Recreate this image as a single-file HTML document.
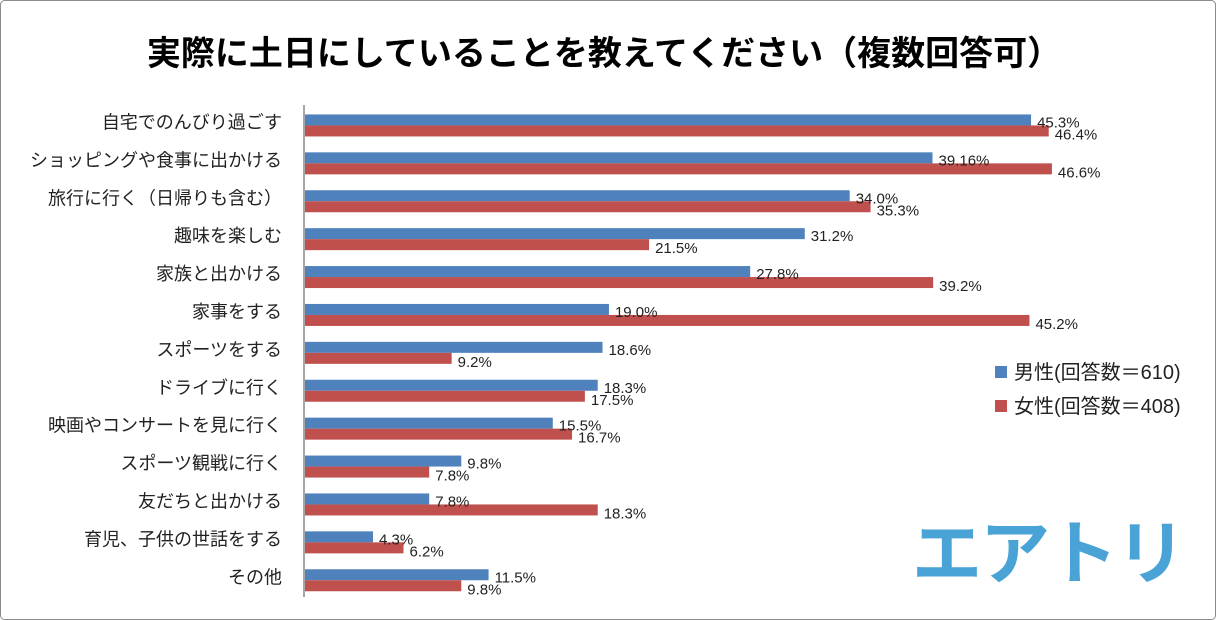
<!DOCTYPE html>
<html><head><meta charset="utf-8"><style>
html,body{margin:0;padding:0;background:#fff;}
svg{display:block;font-family:"Liberation Sans","Noto Sans CJK JP",sans-serif;}
</style></head><body>
<svg id="chart" width="1216" height="620" viewBox="0 0 1216 620">
<rect x="0.5" y="0.5" width="1215" height="619" rx="4" fill="#fff" stroke="#8c8c8c"/>
<text x="604" y="65" text-anchor="middle" font-size="34" font-weight="bold" fill="#000">実際に土日にしていることを教えてください（複数回答可）</text>
<line x1="304" y1="105" x2="304" y2="597" stroke="#888" stroke-width="1.5"/>
<g id="bars"></g>
<rect x="995" y="366" width="12" height="12" fill="#4f81bd"/>
<text x="1014" y="379" font-size="20" fill="#222">男性(回答数＝610)</text>
<rect x="995" y="400" width="12" height="12" fill="#c0504d"/>
<text x="1014" y="413" font-size="20" fill="#222">女性(回答数＝408)</text>
<text x="1048" y="578" text-anchor="middle" font-size="70" font-weight="bold" fill="#4aa3d6" letter-spacing="-2">エアトリ</text>
</svg>
<script>
const categories=["自宅でのんびり過ごす","ショッピングや食事に出かける","旅行に行く（日帰りも含む）","趣味を楽しむ","家族と出かける","家事をする","スポーツをする","ドライブに行く","映画やコンサートを見に行く","スポーツ観戦に行く","友だちと出かける","育児、子供の世話をする","その他"];
const maleValues=[45.3,39.16,34.0,31.2,27.8,19.0,18.6,18.3,15.5,9.8,7.8,4.3,11.5];
const femaleValues=[46.4,46.6,35.3,21.5,39.2,45.2,9.2,17.5,16.7,7.8,18.3,6.2,9.8];
const maleLabels=["45.3%","39.16%","34.0%","31.2%","27.8%","19.0%","18.6%","18.3%","15.5%","9.8%","7.8%","4.3%","11.5%"];
const femaleLabels=["46.4%","46.6%","35.3%","21.5%","39.2%","45.2%","9.2%","17.5%","16.7%","7.8%","18.3%","6.2%","9.8%"];
const NS="http://www.w3.org/2000/svg";
const x0=304, pxPer=16.05, yTop=106, step=37.9;
function xScale(v){return x0+v*pxPer;}
function yCenter(i){return yTop+step*i+step/2+0.5;}
const g=document.getElementById('bars');
function mk(tag,attrs){const e=document.createElementNS(NS,tag);for(const k in attrs)e.setAttribute(k,attrs[k]);g.appendChild(e);return e;}
categories.forEach((c,i)=>{
  const yc=yCenter(i);
  const t=mk('text',{x:282,y:yc+3,'text-anchor':'end','font-size':18,fill:'#222'});
  t.textContent=c;
  
  
  const b1=mk('rect',{x:x0+1,y:yc-11,width:xScale(maleValues[i])-x0-1,height:11,fill:'#4f81bd'});
  
  
  const b2=mk('rect',{x:x0+1,y:yc,width:xScale(femaleValues[i])-x0-1,height:11,fill:'#c0504d'});
  
  
  const l1=mk('text',{x:xScale(maleValues[i])+6,y:yc+2,'font-size':15,fill:'#222'});
  l1.textContent=maleLabels[i];
  
  
  const l2=mk('text',{x:xScale(femaleValues[i])+6,y:yc+14,'font-size':15,fill:'#222'});
  l2.textContent=femaleLabels[i];
  
  
});
</script>
</body></html>
